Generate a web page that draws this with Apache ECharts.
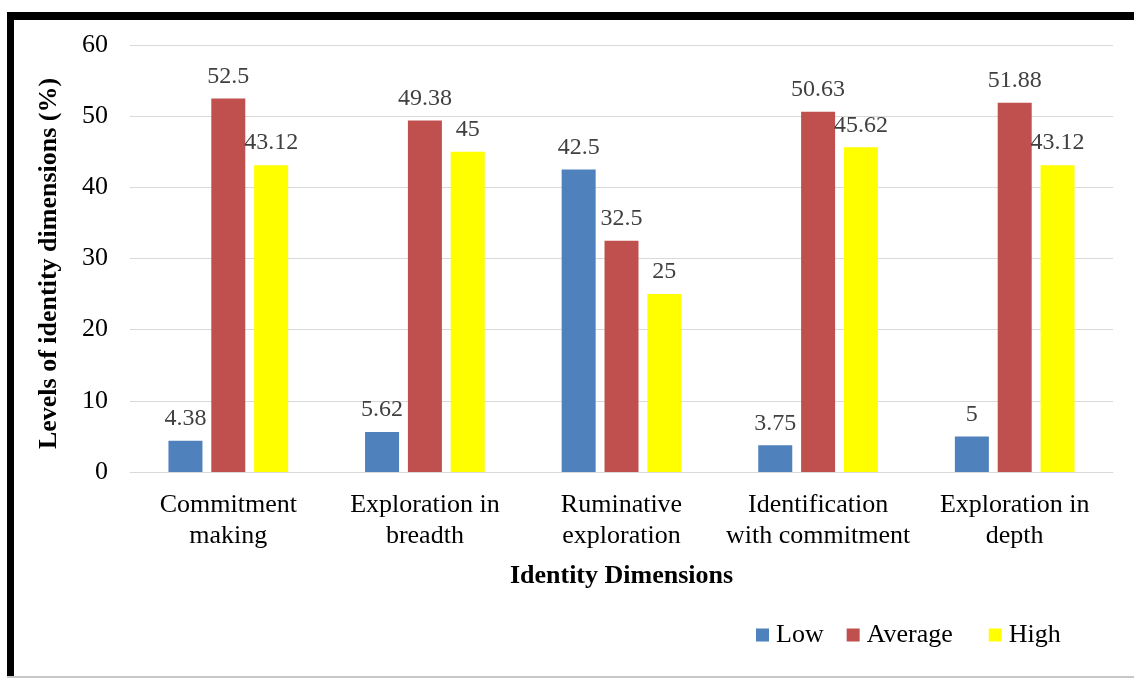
<!DOCTYPE html>
<html>
<head>
<meta charset="utf-8">
<script src="https://cdn.jsdelivr.net/npm/echarts@6/dist/echarts.min.js"></script>
<style>
    html, body {margin: 0; padding: 0; background: #fff;}
    #chart {width: 1134px; height: 678px;}
</style>
</head>
<body>
<div id="chart"></div>
<script>
// identity dimensions
const categories = ['Commitment\nmaking', 'Exploration in\nbreadth', 'Ruminative\nexploration', 'Identification\nwith commitment', 'Exploration in\ndepth'];
const lowValues = [4.38, 5.62, 42.5, 3.75, 5];
const averageValues = [52.5, 49.38, 32.5, 50.63, 51.88];
const highValues = [43.12, 45, 25, 45.62, 43.12];

const serif = '"Liberation Serif", "Times New Roman", serif';

let chart = echarts.init(document.getElementById('chart'));

function barSeries(name, data, color) {
    return {
        name: name,
        type: 'bar',
        data: data,
        barWidth: 34,
        barGap: '26%',
        itemStyle: {color: color},
        label: {
            show: true,
            position: 'top',
            distance: 10,
            fontFamily: serif,
            fontSize: 24,
            color: '#404040'
        }
    };
}

chart.setOption({
    animation: false,
    backgroundColor: '#fff',
    textStyle: {fontFamily: serif},
    grid: {left: 130, right: 21, top: 45, bottom: 206},
    legend: {
        data: ['Low', 'Average', 'High'],
        top: 617,
        left: 751,
        itemWidth: 13,
        itemHeight: 13,
        itemGap: 23,
        icon: 'rect',
        formatter: function (name) {
            return name === 'Average' ? name + '  ' : name;
        },
        textStyle: {fontFamily: serif, fontSize: 26, color: '#000', padding: [0, 0, 0, 2]}
    },
    xAxis: {
        type: 'category',
        data: categories,
        name: 'Identity Dimensions',
        nameLocation: 'middle',
        nameGap: 91,
        nameTextStyle: {fontFamily: serif, fontSize: 26, fontWeight: 'bold', color: '#000'},
        axisLine: {lineStyle: {color: '#d9d9d9', width: 1}},
        axisTick: {show: false},
        axisLabel: {interval: 0, fontFamily: serif, fontSize: 26, color: '#000', margin: 18, lineHeight: 31}
    },
    yAxis: {
        type: 'value',
        min: 0,
        max: 60,
        interval: 10,
        name: 'Levels of identity dimensions (%)',
        nameLocation: 'middle',
        nameGap: 68,
        nameTextStyle: {fontFamily: serif, fontSize: 26, fontWeight: 'bold', color: '#000', padding: [0, 10, 0, 0]},
        axisLine: {show: false},
        axisTick: {show: false},
        splitLine: {lineStyle: {color: '#d9d9d9', width: 1}},
        axisLabel: {fontFamily: serif, fontSize: 26, color: '#000', margin: 22}
    },
    series: [
        barSeries('Low', lowValues, '#4f81bd'),
        barSeries('Average', averageValues, '#c0504d'),
        barSeries('High', highValues, '#ffff00')
    ],
    graphic: [
        // frame lines
        {type: 'rect', shape: {x: 7, y: 12, width: 1127, height: 8}, style: {fill: '#000'}},
        {type: 'rect', shape: {x: 7, y: 12, width: 7, height: 666}, style: {fill: '#000'}},
        {type: 'rect', shape: {x: 7, y: 676, width: 1127, height: 2}, style: {fill: '#c8c8c8'}}
    ]
});
</script>
</body>
</html>
